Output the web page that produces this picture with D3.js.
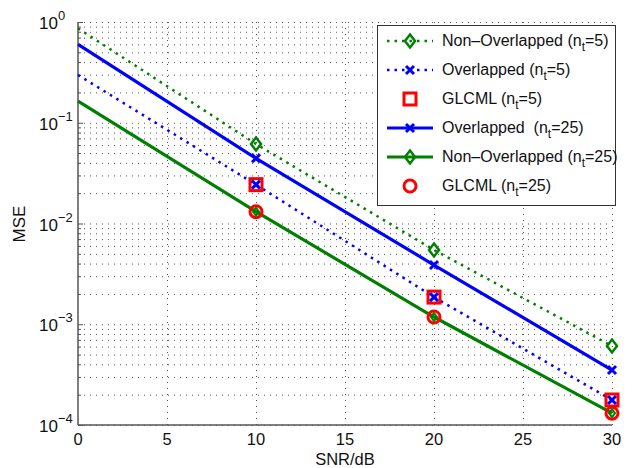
<!DOCTYPE html>
<html><head><meta charset="utf-8">
<script src="https://cdn.jsdelivr.net/npm/d3@7"></script>
<style>body{margin:0;background:#fff}svg{font-family:"Liberation Sans",Arial,sans-serif}</style>
</head><body><svg id="c" width="635" height="468"></svg>
<script>
const lineSNR = [0, 10, 20, 30];
const markSNR = [10, 20, 30];
const nonOv5Line = [0.865, 0.0615, 0.00546, 0.000608];
const ov5Line = [0.298, 0.0243, 0.00186, 0.000177];
const ov25Line = [0.60, 0.0444, 0.00387, 0.000351];
const nonOv25Line = [0.164, 0.0131, 0.00118, 0.000131];
const nonOv5Mark = [0.0615, 0.00546, 0.000608];
const ov5Mark = [0.0243, 0.00186, 0.000177];
const glcml5Mark = [0.0243, 0.00186, 0.000177];
const ov25Mark = [0.0444, 0.00387, 0.000351];
const nonOv25Mark = [0.0131, 0.00118, 0.000131];
const glcml25Mark = [0.0131, 0.00118, 0.000131];
const xTicks = [0, 5, 10, 15, 20, 25, 30];
const yExps = [0, -1, -2, -3, -4];
const legendNames = ["Non\u2013Overlapped (n", "Overlapped (n", "GLCML (n", "Overlapped \u00a0(n", "Non\u2013Overlapped (n", "GLCML (n"];
const legendSubs = ["=5)", "=5)", "=5)", "=25)", "=25)", "=25)"];

const G = "#008000", B = "#0000ff", R = "#ff0000";
const svg = d3.select("#c");
const x = d3.scaleLinear().domain([0, 30]).range([78, 612]);
const y = d3.scaleLog().domain([1e-4, 1]).range([425, 22]);

// grid
const gridVals = [];
for (let k = -4; k < 0; k++) for (let m = 1; m <= 9; m++) gridVals.push(m * Math.pow(10, k));
gridVals.push(1);
const grid = svg.append("g").attr("stroke", "#555").attr("stroke-width", 1).attr("stroke-dasharray", "1,5");
grid.selectAll("line.h").data(gridVals).join("line").attr("class", "h")
  .attr("x1", x(0)).attr("x2", x(30)).attr("y1", d => y(d) + 0.5).attr("y2", d => y(d) + 0.5);
grid.selectAll("line.v").data(xTicks.slice(1)).join("line").attr("class", "v")
  .attr("x1", d => x(d) + 0.5).attr("x2", d => x(d) + 0.5).attr("y1", y(1)).attr("y2", y(1e-4));

// axes
const axisC = "#555";
svg.append("line").attr("x1", x(0)).attr("x2", x(0)).attr("y1", y(1)).attr("y2", y(1e-4)).attr("stroke", axisC).attr("stroke-width", 1.5);
svg.append("line").attr("x1", x(0)).attr("x2", x(30)).attr("y1", y(1e-4)).attr("y2", y(1e-4)).attr("stroke", axisC).attr("stroke-width", 1.5);
svg.append("g").selectAll("line").data(gridVals).join("line")
  .attr("x1", x(0)).attr("x2", d => x(0) + (Math.abs(Math.log10(d) - Math.round(Math.log10(d))) < 1e-9 ? 5 : 3))
  .attr("y1", d => y(d) + 0.5).attr("y2", d => y(d) + 0.5).attr("stroke", axisC).attr("stroke-width", 1);

// tick labels
svg.append("g").selectAll("text").data(xTicks).join("text")
  .attr("x", d => x(d)).attr("y", 445).attr("text-anchor", "middle").attr("font-size", 16.5).attr("fill", "#111").text(d => d);
const yl = svg.append("g").selectAll("text").data(yExps).join("text")
  .attr("x", 39).attr("y", d => y(Math.pow(10, d)) + 7).attr("font-size", 17).attr("fill", "#111");
yl.append("tspan").text("10");
yl.append("tspan").attr("dy", -9).attr("font-size", 13).text(d => d === 0 ? "0" : "\u2212" + (-d));

svg.append("text").attr("x", 345).attr("y", 465).attr("text-anchor", "middle").attr("font-size", 16.5).attr("fill", "#111").text("SNR/dB");
svg.append("text").attr("transform", "translate(25,224) rotate(-90)").attr("text-anchor", "middle").attr("font-size", 17).attr("fill", "#111").text("MSE");

// lines
const lineGen = d3.line().x(d => x(d[0])).y(d => y(d[1]));
function drawLine(vals, color, w, dash) {
  svg.append("path").datum(lineSNR.map((s, i) => [s, vals[i]])).attr("d", lineGen)
    .attr("fill", "none").attr("stroke", color).attr("stroke-width", w).attr("stroke-dasharray", dash || null);
}
drawLine(nonOv5Line, G, 2.5, "2.5,5");
drawLine(ov5Line, B, 2.5, "2.5,5");
drawLine(ov25Line, B, 3.2);
drawLine(nonOv25Line, G, 3.2);

// markers
function marker(g, type, cx, cy, color) {
  if (type === "diamond") {
    g.append("path").attr("d", `M${cx},${cy - 6.5}L${cx + 5},${cy}L${cx},${cy + 6.5}L${cx - 5},${cy}Z`)
      .attr("fill", "none").attr("stroke", color).attr("stroke-width", 2.5);
  } else if (type === "smalldiamond") {
    g.append("path").attr("d", `M${cx},${cy - 4}L${cx + 3},${cy}L${cx},${cy + 4}L${cx - 3},${cy}Z`)
      .attr("fill", "none").attr("stroke", color).attr("stroke-width", 2);
  } else if (type === "x") {
    g.append("path").attr("d", `M${cx - 4},${cy - 4}L${cx + 4},${cy + 4}M${cx - 4},${cy + 4}L${cx + 4},${cy - 4}`)
      .attr("stroke", color).attr("stroke-width", 3);
  } else if (type === "square") {
    g.append("rect").attr("x", cx - 6).attr("y", cy - 6).attr("width", 12).attr("height", 12)
      .attr("fill", "none").attr("stroke", color).attr("stroke-width", 3);
  } else if (type === "circle") {
    g.append("circle").attr("cx", cx).attr("cy", cy).attr("r", 6)
      .attr("fill", "none").attr("stroke", color).attr("stroke-width", 3);
  }
}
const mg = svg.append("g");
function drawMarks(vals, type, color) {
  markSNR.forEach((s, i) => marker(mg, type, x(s), y(vals[i]), color));
}
drawMarks(glcml5Mark, "square", R);
drawMarks(glcml25Mark, "circle", R);
drawMarks(nonOv5Mark, "diamond", G);
drawMarks(ov5Mark, "x", B);
drawMarks(ov25Mark, "x", B);
drawMarks(nonOv25Mark, "smalldiamond", G);

// legend
const lg = svg.append("g");
lg.append("rect").attr("x", 377.5).attr("y", 25.5).attr("width", 238).attr("height", 180)
  .attr("fill", "#fff").attr("stroke", "#333").attr("stroke-width", 1);
const legendStyle = [
  {c: G, w: 2.5, dash: "2.5,5", m: "diamond", line: true},
  {c: B, w: 2.5, dash: "2.5,5", m: "x", line: true},
  {c: R, m: "square", line: false},
  {c: B, w: 3.2, m: "x", line: true},
  {c: G, w: 3.2, m: "diamond", line: true},
  {c: R, m: "circle", line: false}
];
const rowY = [41, 70, 99, 128, 157, 186];
legendNames.forEach((name, i) => {
  const st = legendStyle[i], yy = rowY[i];
  if (st.line) lg.append("line").attr("x1", 387).attr("x2", 433).attr("y1", yy).attr("y2", yy)
    .attr("stroke", st.c).attr("stroke-width", st.w).attr("stroke-dasharray", st.dash || null);
  marker(lg, st.m, 410, yy, st.c);
  const t = lg.append("text").attr("x", 442).attr("y", yy + 5).attr("font-size", 16).attr("fill", "#111");
  t.append("tspan").text(name);
  t.append("tspan").attr("dy", 5).attr("font-size", 12).text("t");
  t.append("tspan").attr("dy", -5).text(legendSubs[i]);
});
</script></body></html>
